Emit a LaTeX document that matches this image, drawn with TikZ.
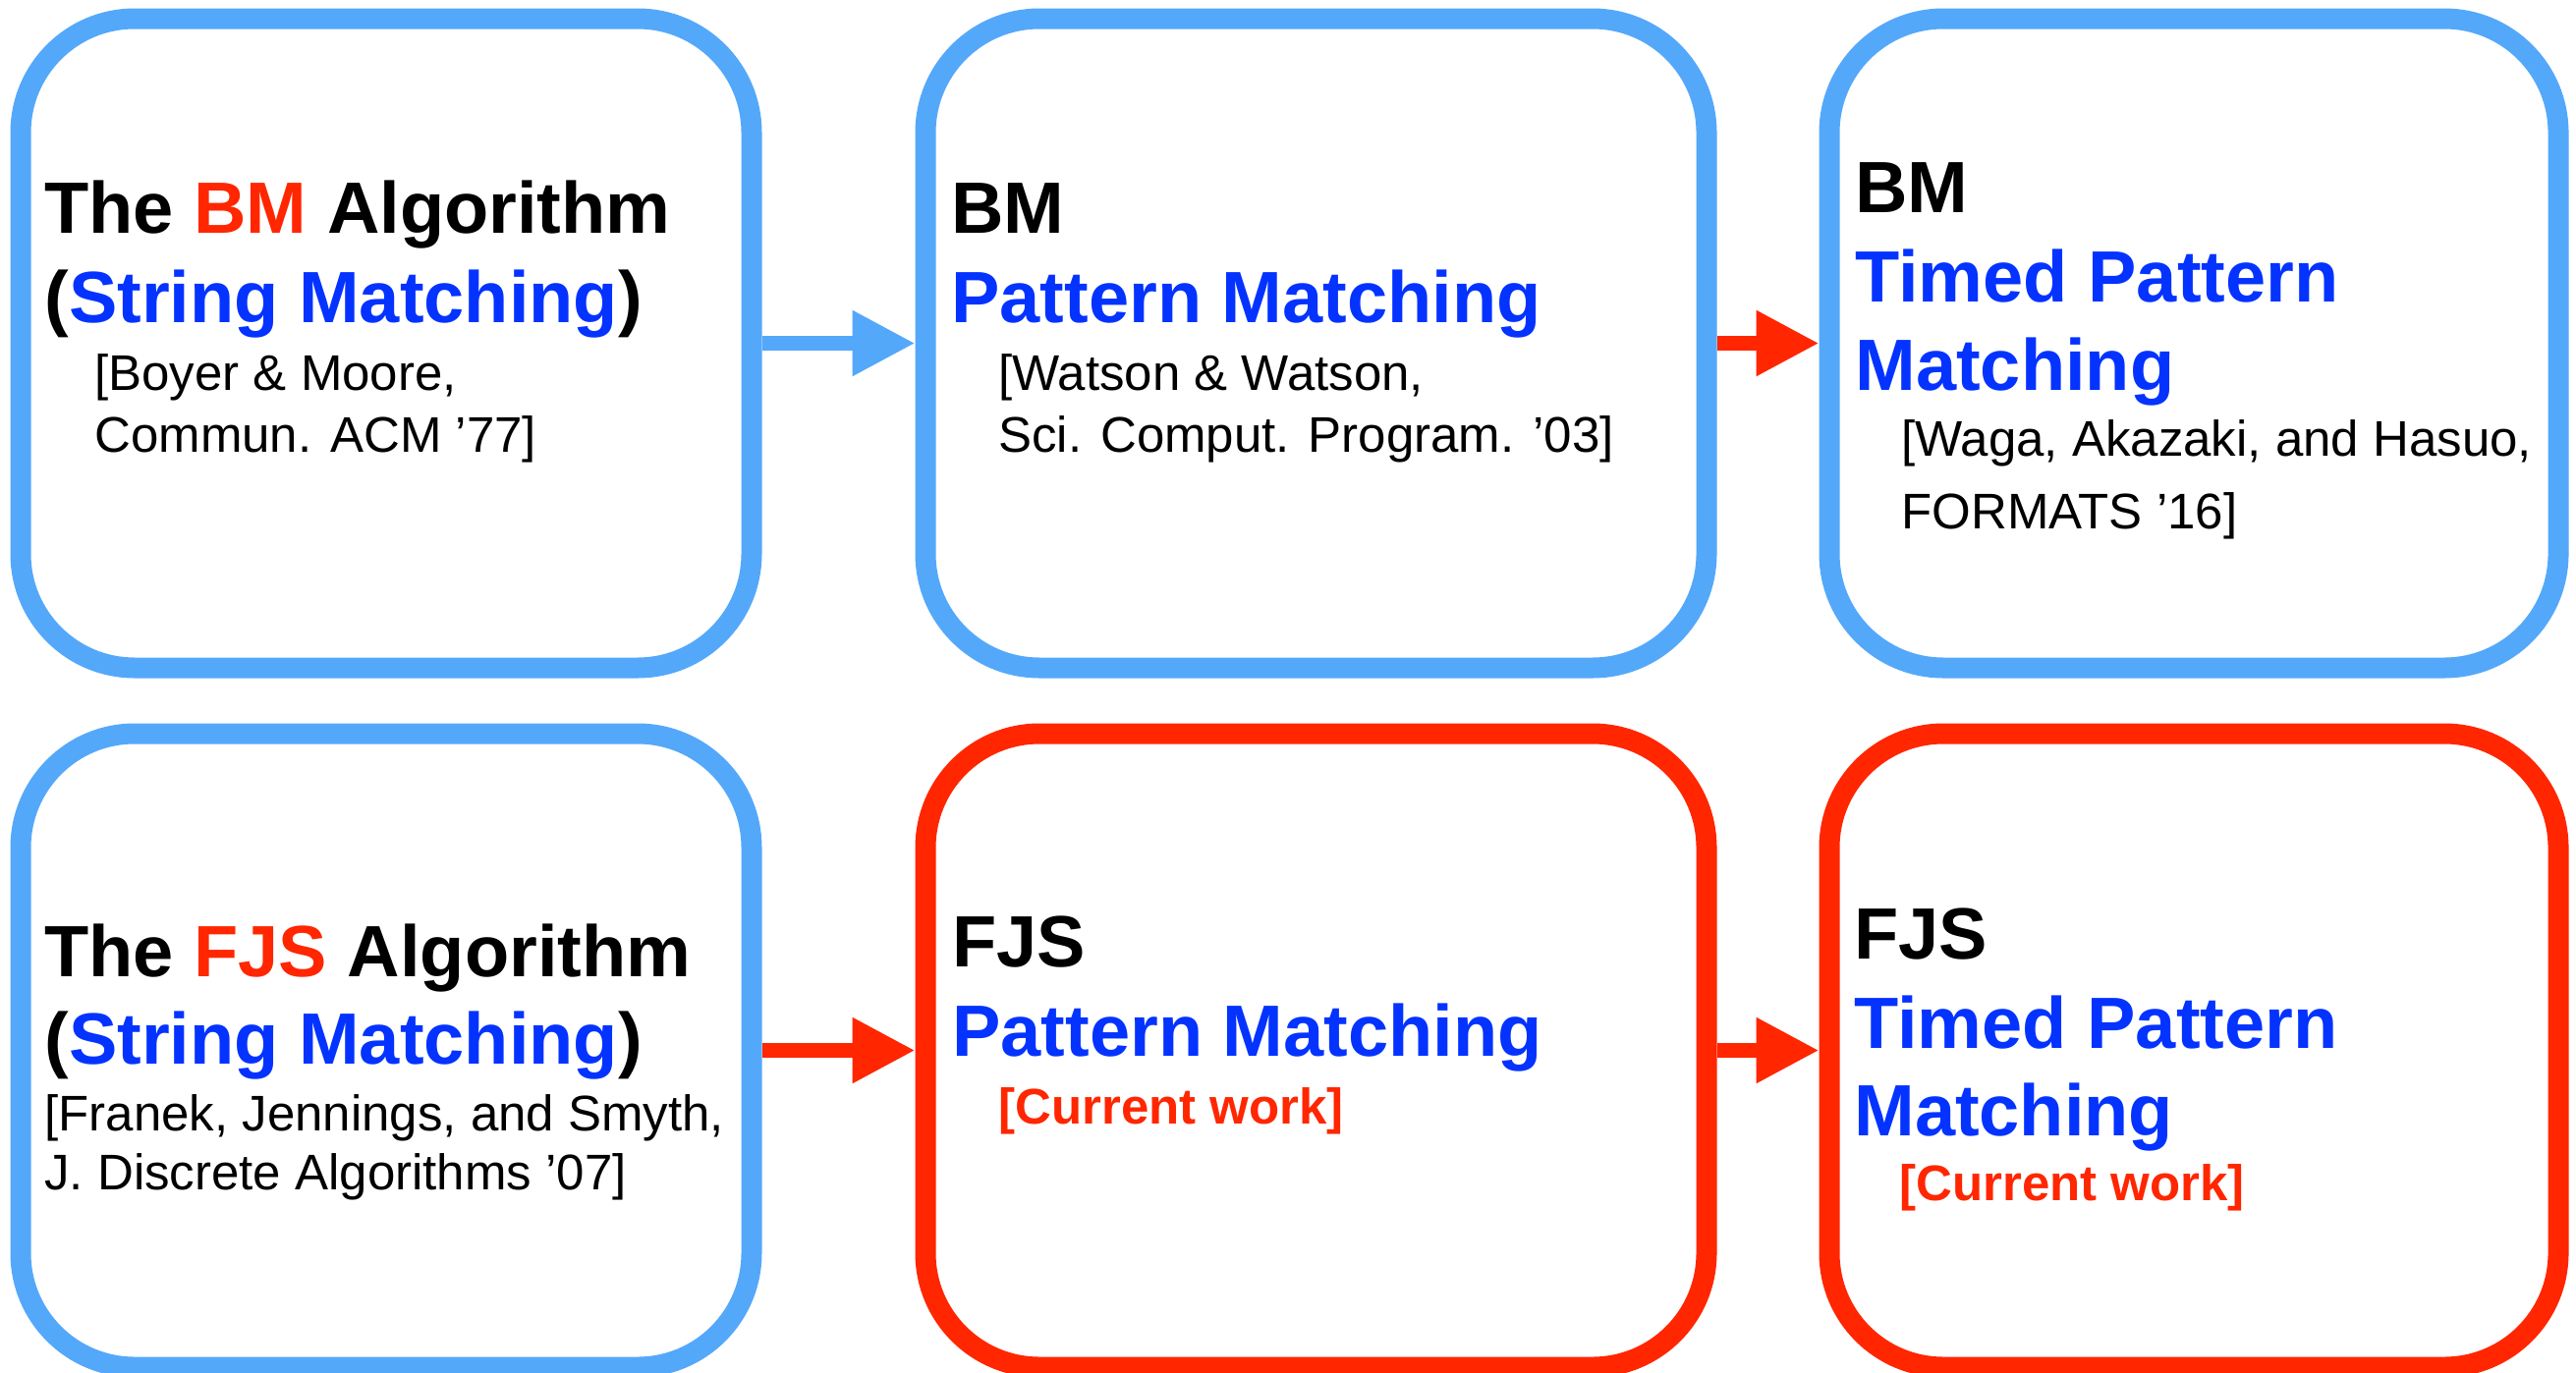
\documentclass[tikz,border=0pt]{standalone}
\usepackage{fontspec}
\setmainfont{Liberation Sans}
\usetikzlibrary{arrows.meta}

\definecolor{skyblue}{RGB}{84,168,250}
\definecolor{kred}{RGB}{255,38,0}
\definecolor{kblue}{RGB}{4,51,255}

\tikzset{
  card/.style={draw, rounded corners=58pt, line width=10.5pt, inner sep=0pt},
  bluecard/.style={card, draw=skyblue},
  redcard/.style={card, draw=kred},
  head/.style={anchor=base west, inner sep=0pt, font=\fontsize{37}{44}\selectfont\bfseries},
  cite/.style={anchor=base west, inner sep=0pt, font=\fontsize{25.5}{30}\selectfont},
  curwork/.style={anchor=base west, inner sep=0pt, text=kred, font=\fontsize{25.5}{30}\selectfont\bfseries},
  link/.style={line width=7.5pt, -{Triangle[length=32pt,width=31.5pt]}}
}

\begin{document}
\begin{tikzpicture}[x=0.5pt,y=-0.5pt]
\useasboundingbox (0,0) rectangle (2622,1397);

% boxes, top row
\node[bluecard, minimum width=372pt,   minimum height=330.5pt] (b1) at (393,349.5) {};
\node[bluecard, minimum width=397.5pt, minimum height=330.5pt] (b2) at (1339.5,349.5) {};
\node[bluecard, minimum width=371pt,   minimum height=330.5pt] (b3) at (2233,349.5) {};
% boxes, bottom row
\node[bluecard, minimum width=372pt,   minimum height=322.5pt] (b4) at (393,1069.5) {};
\node[redcard,  minimum width=397.5pt, minimum height=322.5pt] (b5) at (1339.5,1069.5) {};
\node[redcard,  minimum width=371pt,   minimum height=322.5pt] (b6) at (2233,1069.5) {};

% arrows
\draw[link, skyblue] (b1.east) -- (b2.west);
\draw[link, kred] (b2.east) -- (b3.west);
\draw[link, kred] (b4.east) -- (b5.west);
\draw[link, kred] (b5.east) -- (b6.west);

% box 1
\node[head] (t1a) at (45,237) {The \textcolor{kred}{BM} Algorithm};
\node[head] (t1b) at (45,328) {(\textcolor{kblue}{String Matching})};
\node[cite] (t1c) at (96,397) {[Boyer \& Moore,};
\node[cite] (t1d) at (96,460) {Commun. ACM ’77]};

% box 2
\node[head] (t2a) at (968,237) {BM};
\node[head, text=kblue] (t2b) at (968,328) {Pattern Matching};
\node[cite] (t2c) at (1016,397) {[Watson \& Watson,};
\node[cite] (t2d) at (1016,460) {Sci. Comput. Program. ’03]};

% box 3
\node[head] (t3a) at (1888,216) {BM};
\node[head, text=kblue] (t3b) at (1888,307) {Timed Pattern};
\node[head, text=kblue] (t3c) at (1888,397) {Matching};
\node[cite] (t3d) at (1935,464) {[Waga, Akazaki, and Hasuo,};
\node[cite] (t3e) at (1935,538) {FORMATS ’16]};

% box 4
\node[head] (t4a) at (45,994) {The \textcolor{kred}{FJS} Algorithm};
\node[head] (t4b) at (45,1083) {(\textcolor{kblue}{String Matching})};
\node[cite] (t4c) at (45,1151) {[Franek, Jennings, and Smyth,};
\node[cite] (t4d) at (45,1211) {J. Discrete Algorithms ’07]};

% box 5
\node[head] (t5a) at (969,984) {FJS};
\node[head, text=kblue] (t5b) at (969,1075) {Pattern Matching};
\node[curwork] (t5c) at (1016,1144) {[Current work]};

% box 6
\node[head] (t6a) at (1887,976) {FJS};
\node[head, text=kblue] (t6b) at (1887,1067) {Timed Pattern};
\node[head, text=kblue] (t6c) at (1887,1156) {Matching};
\node[curwork] (t6d) at (1933,1222) {[Current work]};
\end{tikzpicture}
\end{document}
